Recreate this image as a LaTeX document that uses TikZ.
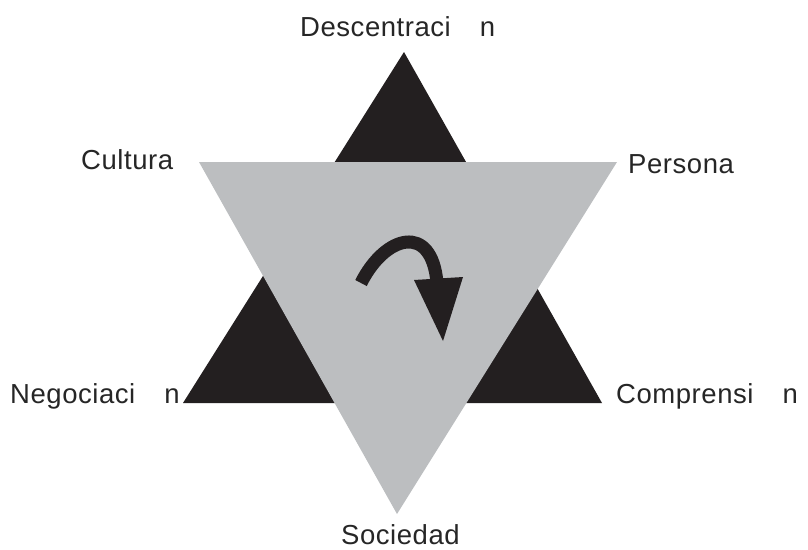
\documentclass[tikz,border=0pt]{standalone}
\usepackage{fontspec}
\setmainfont{Liberation Sans}[LetterSpace=2]
\definecolor{darktri}{HTML}{231F20}
\definecolor{lighttri}{HTML}{BCBEC0}
\begin{document}
\begin{tikzpicture}[x=1pt,y=-1pt,
  lbl/.style={inner sep=0pt,font=\fontsize{27.5}{32}\selectfont,text=black!85}]
\useasboundingbox (0,0) rectangle (808,549);
% black upward triangle
\fill[darktri] (404,52) -- (602,403) -- (183,403) -- cycle;
% gray downward triangle
\fill[lighttri] (199,162) -- (617,162) -- (397,514) -- cycle;
% curved arrow
\draw[darktri,line width=13pt] (361,283) .. controls (385,235) and (432,222) .. (437,283);
\fill[darktri] (414,280) -- (463,277) -- (443,341) -- cycle;
% labels
\node[lbl,anchor=base west] (desc) at (300,36) {Descentraci\hspace{29pt}n};
\node[lbl,anchor=base west] (cult) at (81,169) {Cultura};
\node[lbl,anchor=base west] (pers) at (628,173) {Persona};
\node[lbl,anchor=base west] (nego) at (10,403) {Negociaci\hspace{29pt}n};
\node[lbl,anchor=base west] (comp) at (616,403) {Comprensi\hspace{29pt}n};
\node[lbl,anchor=base west] (soci) at (341,544) {Sociedad};
\end{tikzpicture}
\end{document}
